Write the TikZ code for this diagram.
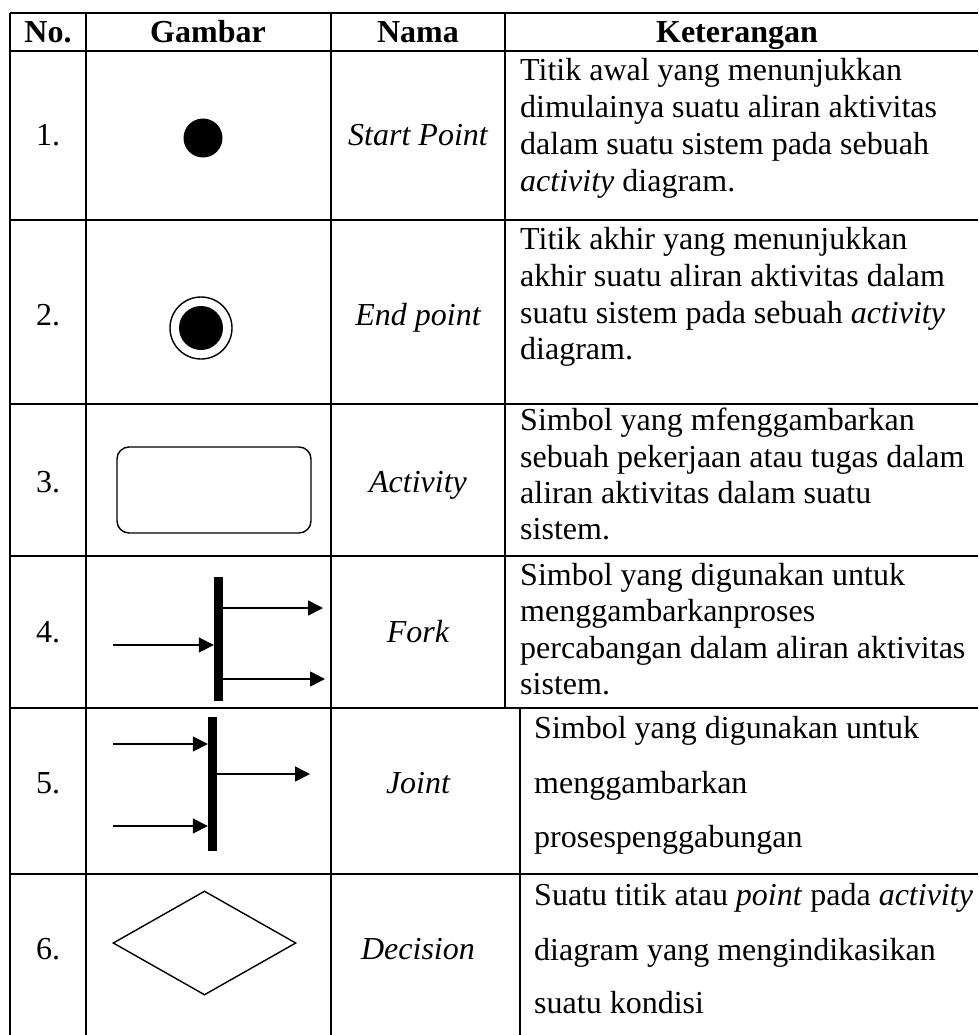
\documentclass[tikz,border=0pt]{standalone}
\usepackage{fontspec}
\setmainfont{Liberation Serif}
\usetikzlibrary{arrows.meta,shapes.geometric}

\begin{document}
\begin{tikzpicture}[x=1pt,y=-1pt,
  grid/.style={line width=2pt},
  outline/.style={draw,line width=1.4pt},
  flow/.style={line width=1.6pt,-{Triangle[length=15pt,width=15pt]}},
  txt/.style={inner sep=0pt,font=\fontsize{32}{36.8}\selectfont},
  hdr/.style={inner sep=0pt,font=\fontsize{32}{36.8}\selectfont\bfseries},
  nama/.style={inner sep=0pt,font=\fontsize{32}{36.8}\selectfont\itshape,anchor=base},
  nomor/.style={txt,anchor=base},
  ket/.style={txt,anchor=base west},
  bar/.style={fill=black,inner sep=0pt,minimum width=9pt}
]
\useasboundingbox (0,0) rectangle (978,1035);

% table rules
\foreach \yy in {13,51,220,404,556,708,874}
  \draw[grid] (10,\yy) -- (978,\yy);
\draw[grid] (10,13) -- (10,1035);
\draw[grid] (86,13) -- (86,1035);
\draw[grid] (331,13) -- (331,1035);
\draw[grid] (505,13) -- (505,708);
\draw[grid] (520,708) -- (520,1035);

% header
\node[hdr,anchor=base] (hno)  at (48,43)  {No.};
\node[hdr,anchor=base] (hgb)  at (208,43) {Gambar};
\node[hdr,anchor=base] (hnm)  at (418,43) {Nama};
\node[hdr,anchor=base] (hket) at (737,43) {Keterangan};

% numbers
\node[nomor] (n1) at (48,146) {1.};
\node[nomor] (n2) at (48,325) {2.};
\node[nomor] (n3) at (48,492) {3.};
\node[nomor] (n4) at (48,642) {4.};
\node[nomor] (n5) at (48,793) {5.};
\node[nomor] (n6) at (48,959) {6.};

% names
\node[nama] (m1) at (418,146) {Start Point};
\node[nama] (m2) at (418,325) {End point};
\node[nama] (m3) at (418,492) {Activity};
\node[nama] (m4) at (418,642) {Fork};
\node[nama] (m5) at (418,793) {Joint};
\node[nama] (m6) at (418,959) {Decision};

% symbols
\node[circle,fill=black,inner sep=0pt,minimum size=39pt] (start) at (203,138) {};

\node[circle,outline,inner sep=0pt,minimum size=62pt] (endring) at (201,328) {};
\node[circle,fill=black,inner sep=0pt,minimum size=44pt] (enddot) at (201,328) {};

\node[outline,rectangle,rounded corners=12pt,minimum width=194pt,minimum height=86pt,inner sep=0pt] (act) at (214,490) {};

\node[bar,minimum height=124pt] (fork) at (218.5,639) {};
\coordinate (fin)   at (113,645);
\coordinate (fout1) at (323,608);
\coordinate (fout2) at (325,679);
\draw[flow] (fin) -- (fin -| fork.west);
\draw[flow] (fout1 -| fork.east) -- (fout1);
\draw[flow] (fout2 -| fork.east) -- (fout2);

\node[bar,minimum height=134pt] (join) at (212.5,784) {};
\coordinate (jin1) at (113,744);
\coordinate (jin2) at (113,826);
\coordinate (jout) at (310,774);
\draw[flow] (jin1) -- (jin1 -| join.west);
\draw[flow] (jin2) -- (jin2 -| join.west);
\draw[flow] (jout -| join.east) -- (jout);

\node[diamond,outline,inner sep=0pt,aspect=1.76,minimum width=183pt,minimum height=104pt] (dec) at (204.5,943) {};

% descriptions
\node[ket] (k1a) at (520,81)  {Titik awal yang menunjukkan};
\node[ket] (k1b) at (520,118) {dimulainya suatu aliran aktivitas};
\node[ket] (k1c) at (520,155) {dalam suatu sistem pada sebuah};
\node[ket] (k1d) at (520,192) {\textit{activity} diagram.};

\node[ket] (k2a) at (520,249) {Titik akhir yang menunjukkan};
\node[ket] (k2b) at (520,286) {akhir suatu aliran aktivitas dalam};
\node[ket] (k2c) at (520,323) {suatu sistem pada sebuah \textit{activity}};
\node[ket] (k2d) at (520,359) {diagram.};

\node[ket] (k3a) at (520,430) {Simbol yang mfenggambarkan};
\node[ket] (k3b) at (520,467) {sebuah pekerjaan atau tugas dalam};
\node[ket] (k3c) at (520,503) {aliran aktivitas dalam suatu};
\node[ket] (k3d) at (520,539) {sistem.};

\node[ket] (k4a) at (520,585) {Simbol yang digunakan untuk};
\node[ket] (k4b) at (520,621) {menggambarkanproses};
\node[ket] (k4c) at (520,658) {percabangan dalam aliran aktivitas};
\node[ket] (k4d) at (520,694) {sistem.};

\node[ket] (k5a) at (534,738) {Simbol yang digunakan untuk};
\node[ket] (k5b) at (534,793) {menggambarkan};
\node[ket] (k5c) at (534,847) {prosespenggabungan};

\node[ket] (k6a) at (534,905)  {Suatu titik atau \textit{point} pada \textit{activity}};
\node[ket] (k6b) at (534,960)  {diagram yang mengindikasikan};
\node[ket] (k6c) at (534,1013) {suatu kondisi};
\end{tikzpicture}
\end{document}
